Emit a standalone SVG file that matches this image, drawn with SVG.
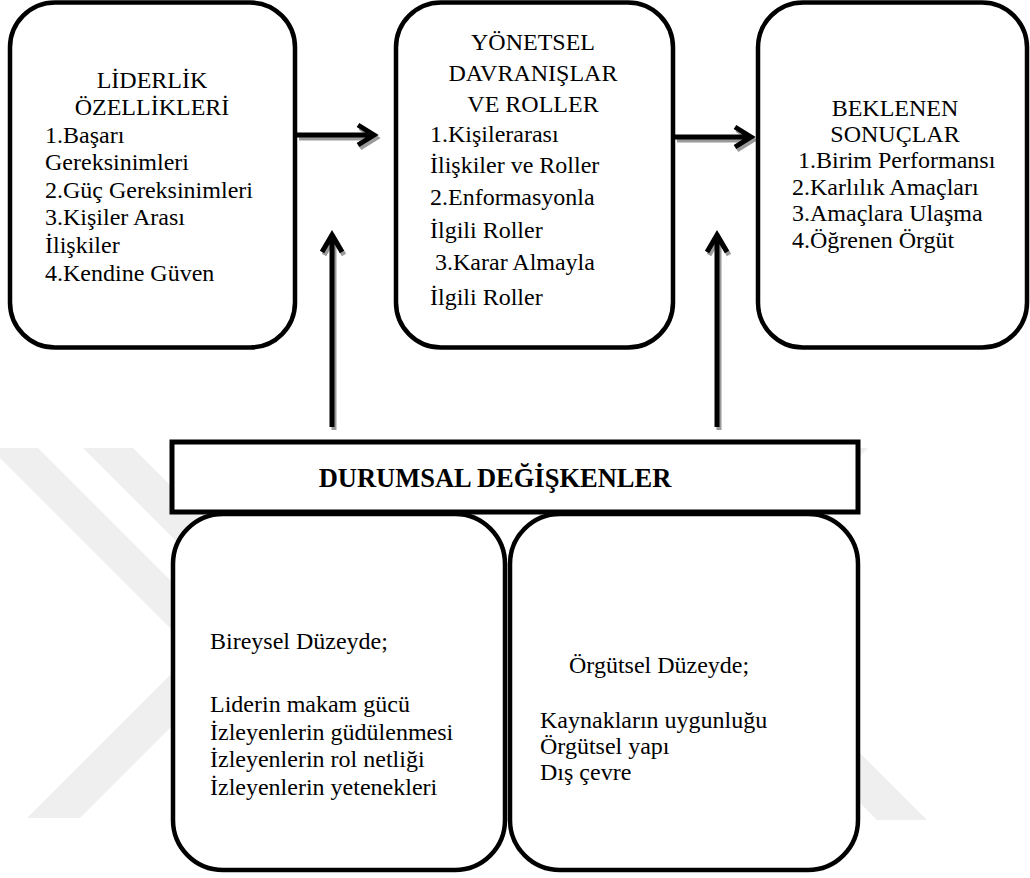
<svg xmlns="http://www.w3.org/2000/svg" width="1030" height="878" viewBox="0 0 1030 878">
<style>
.box{fill:#fff;stroke:#000;stroke-width:4.5}
text{font-family:'Liberation Serif','Times New Roman','DejaVu Serif',serif;font-size:24px;fill:#000}
.c{text-anchor:middle}
.b{font-weight:bold;font-size:26.5px}
.ln{fill:none;stroke:#000;stroke-width:5;stroke-linejoin:miter}
.sh{fill:none;stroke:#9a9a9a;stroke-width:5;stroke-linejoin:miter}
.wm{fill:#efefef}
</style>
<rect width="1030" height="878" fill="#fff"/>
<g id="watermark">
<polygon class="wm" points="-10,448 38,448 250,660 202,660"/>
<polygon class="wm" points="83,448 133,448 300,615 250,615"/>
<polygon class="wm" points="27,818 80,818 260,638 207,638"/>
<polygon class="wm" points="877,820 927,820 740,633 690,633"/>
<polygon class="wm" points="820,448 868,448 780,536 732,536"/>
</g>
<g id="connectors">
<g transform="translate(2,3)">
<path class="sh" d="M297,135 H373 M358,125 L374,135 L358,145"/>
<path class="sh" d="M675,137 H750 M735,127 L751,137 L735,147"/>
<path class="sh" d="M332,427 V238 M322,252 L332,235 L342,252"/>
<path class="sh" d="M717,427 V238 M707,252 L717,235 L727,252"/>
</g>
<path class="ln" d="M297,135 H373 M358,125 L374,135 L358,145"/>
<path class="ln" d="M675,137 H750 M735,127 L751,137 L735,147"/>
<path class="ln" d="M332,427 V238 M322,252 L332,235 L342,252"/>
<path class="ln" d="M717,427 V238 M707,252 L717,235 L727,252"/>
</g>
<g id="liderlik" font-family="Liberation Serif">
<rect class="box" x="10" y="2.5" width="285" height="345" rx="45"/>
<text class="c" x="152" y="88">LİDERLİK</text>
<text class="c" x="152" y="115">ÖZELLİKLERİ</text>
<text x="45" y="143">1.Başarı</text>
<text x="45" y="170">Gereksinimleri</text>
<text x="45" y="198">2.Güç Gereksinimleri</text>
<text x="45" y="225">3.Kişiler Arası</text>
<text x="45" y="253">İlişkiler</text>
<text x="45" y="281">4.Kendine Güven</text>
</g>
<g id="yonetsel" font-family="Liberation Serif">
<rect class="box" x="396" y="2.5" width="277" height="345" rx="45"/>
<text class="c" x="533" y="50">YÖNETSEL</text>
<text class="c" x="533" y="81">DAVRANIŞLAR</text>
<text class="c" x="533" y="112">VE ROLLER</text>
<text x="430" y="142">1.Kişilerarası</text>
<text x="430" y="173">İlişkiler ve Roller</text>
<text x="430" y="205">2.Enformasyonla</text>
<text x="430" y="238">İlgili Roller</text>
<text x="435" y="270">3.Karar Almayla</text>
<text x="430" y="305">İlgili Roller</text>
</g>
<g id="beklenen" font-family="Liberation Serif">
<rect class="box" x="758" y="2.5" width="269" height="345" rx="45"/>
<text class="c" x="895" y="116">BEKLENEN</text>
<text class="c" x="895" y="142">SONUÇLAR</text>
<text x="798" y="168">1.Birim Performansı</text>
<text x="792" y="195">2.Karlılık Amaçları</text>
<text x="792" y="221">3.Amaçlara Ulaşma</text>
<text x="792" y="248">4.Öğrenen Örgüt</text>
</g>
<g id="bireysel" font-family="Liberation Serif">
<rect class="box" x="173" y="514" width="332" height="356" rx="50"/>
<text x="210" y="649">Bireysel Düzeyde;</text>
<text x="210" y="712">Liderin makam gücü</text>
<text x="210" y="740">İzleyenlerin güdülenmesi</text>
<text x="210" y="767">İzleyenlerin rol netliği</text>
<text x="210" y="795">İzleyenlerin yetenekleri</text>
</g>
<g id="orgutsel" font-family="Liberation Serif">
<rect class="box" x="510" y="514" width="348" height="356" rx="50"/>
<text x="569" y="673">Örgütsel Düzeyde;</text>
<text x="540" y="728">Kaynakların uygunluğu</text>
<text x="540" y="754">Örgütsel yapı</text>
<text x="540" y="780">Dış çevre</text>
</g>
<g id="durumsal" font-family="Liberation Serif">
<rect x="172" y="442" width="686" height="70" fill="#fff" stroke="#000" stroke-width="5"/>
<text class="c b" x="495" y="487">DURUMSAL DEĞİŞKENLER</text>
</g>
</svg>
